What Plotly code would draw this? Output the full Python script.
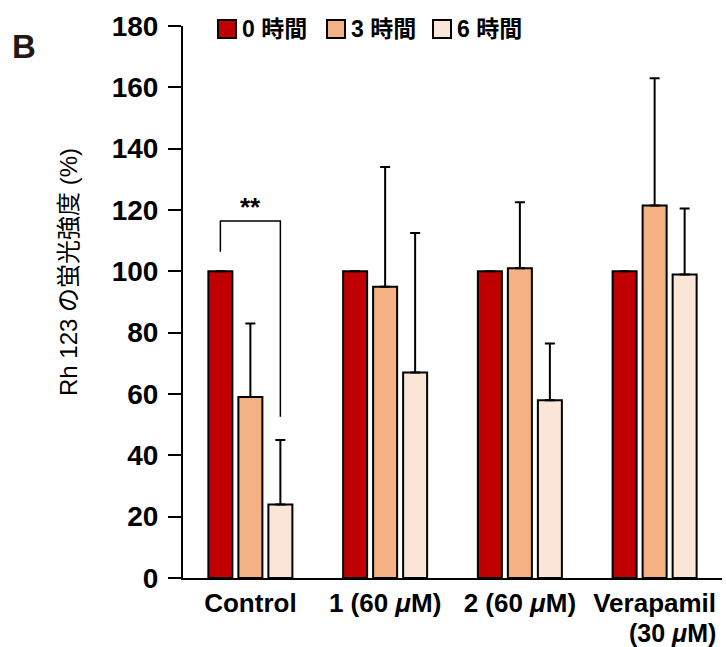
import plotly.graph_objects as go

categories = ["Control", "1 (60 <i>μ</i>M)", "2 (60 <i>μ</i>M)", "Verapamil"]
category_sublabels = ["", "", "", "(30 <i>μ</i>M)"]
series_names = ["0 時間", "3 時間", "6 時間"]
values_0h = [100, 100, 100, 100]
values_3h = [59, 95, 101, 121.5]
values_6h = [24, 67, 58, 99]
err_0h = [0, 0, 0, 0]
err_3h = [24, 39, 21.5, 41.5]
err_6h = [21, 45.5, 18.5, 21.5]
colors = ["#C00000", "#F4B183", "#FBE5D6"]
y_ticks = [0, 20, 40, 60, 80, 100, 120, 140, 160, 180]
y_title = "Rh 123 の蛍光強度 (%)"

font_bold = "Liberation Sans, Arial, Noto Sans CJK JP"

W, H = 726, 647
L, R, T, B = 183, 4, 26, 69
PW, PH = W - L - R, H - T - B


def px_x(px):
    return (px - L) / PW


def px_y(py):
    return 1 - (py - T) / PH


fig = go.Figure()
for name, vals, errs, col in zip(series_names, [values_0h, values_3h, values_6h],
                                 [err_0h, err_3h, err_6h], colors):
    fig.add_trace(go.Bar(
        name=name, x=list(range(len(categories))), y=vals, showlegend=False,
        marker=dict(color=col, line=dict(color="black", width=2)),
        error_y=dict(type="data", array=errs, symmetric=False, arrayminus=[0] * len(errs),
                     visible=True, color="black", thickness=2, width=5),
    ))

# significance bracket (Control: 0h vs 6h)
slot = 0.2226
bx0, bx1 = 0 - slot, 0 + slot
fig.add_shape(type="path", path=f"M {bx0} 106.4 L {bx0} 116.4 L {bx1} 116.4 L {bx1} 52.6",
              line=dict(color="black", width=1.5), xref="x", yref="y")
fig.add_annotation(x=0, y=121, text="<b>**</b>", showarrow=False, yanchor="middle",
                   font=dict(size=26, color="black", family=font_bold))

# second line of category labels (tight line spacing as in reference)
for i, sub in enumerate(category_sublabels):
    if sub:
        fig.add_annotation(x=i + 0.13, y=px_y(633), xref="x", yref="paper",
                           text=f"<b>{sub}</b>", showarrow=False, borderpad=0,
                           xanchor="center", yanchor="middle",
                           font=dict(size=25, color="black", family=font_bold))

# panel label
fig.add_annotation(x=px_x(24), y=px_y(46), xref="paper", yref="paper", text="<b>B</b>",
                   showarrow=False, xanchor="center", yanchor="middle",
                   font=dict(size=33, color="#231815", family=font_bold))

# y-axis title (placed as rotated text)
fig.add_annotation(x=px_x(68), y=px_y(272), xref="paper", yref="paper", text=y_title,
                   showarrow=False, textangle=-90, xanchor="center", yanchor="middle",
                   font=dict(size=24, color="black", family="Liberation Sans, Noto Sans CJK JP"))

# custom legend
sq_left = [218, 327, 433]
sq_size = 18
sq_cy = 29
for name, col, sx in zip(series_names, colors, sq_left):
    fig.add_shape(type="rect", xref="paper", yref="paper",
                  x0=px_x(sx), x1=px_x(sx + sq_size),
                  y0=px_y(sq_cy + sq_size / 2), y1=px_y(sq_cy - sq_size / 2),
                  fillcolor=col, line=dict(color="black", width=2))
    fig.add_annotation(x=px_x(sx + sq_size + 4), y=px_y(sq_cy), xref="paper", yref="paper",
                       text=f"<b>{name}</b>", showarrow=False, xanchor="left", yanchor="middle",
                       font=dict(size=23, color="black", family=font_bold))

fig.update_layout(
    width=W, height=H,
    margin=dict(l=L, r=R, t=T, b=B, autoexpand=False),
    paper_bgcolor="white", plot_bgcolor="white",
    barmode="group", bargap=0.332, bargroupgap=0.2,
    font=dict(family=font_bold, color="black"),
    showlegend=False,
    xaxis=dict(tickmode="array", tickvals=list(range(len(categories))),
               ticktext=[f"<b>{c}</b>" for c in categories],
               range=[-0.5, 3.5], showline=True, linecolor="black", linewidth=2,
               ticks="", tickfont=dict(size=26, family=font_bold), showgrid=False,
               zeroline=False, automargin=False, ticklabelstandoff=1),
    yaxis=dict(range=[0, 180], tickvals=y_ticks, ticktext=[f"<b>{t}</b>" for t in y_ticks],
               showline=True, linecolor="black", linewidth=2, ticks="outside",
               ticklen=13, tickwidth=2, tickcolor="black",
               tickfont=dict(size=28, family=font_bold), showgrid=False, zeroline=False,
               automargin=False, ticklabelstandoff=4),
)

fig.write_html("out.html", config={"displayModeBar": False},
               post_script="document.body.style.margin='0';document.body.style.padding='0';")
